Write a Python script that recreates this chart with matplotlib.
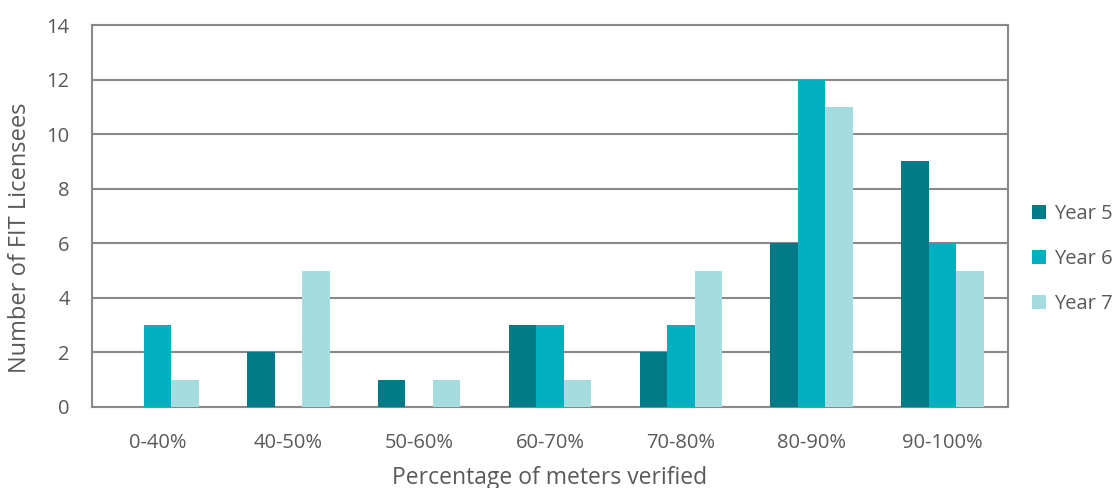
import numpy as np
import matplotlib.pyplot as plt

plt.rcParams['font.family'] = ['Open Sans', 'DejaVu Sans']

categories = ['0-40%', '40-50%', '50-60%', '60-70%', '70-80%', '80-90%', '90-100%']
year5 = [0, 2, 1, 3, 2, 6, 9]
year6 = [3, 0, 0, 3, 3, 12, 6]
year7 = [1, 5, 1, 1, 5, 11, 5]

colors = ['#007A87', '#00B0BF', '#A5DCE0']
text_col = '#595959'
grid_col = '#898989'

fig = plt.figure(figsize=(11.18, 4.88), dpi=100)
ax = fig.add_axes([0.0823, 0.166, 0.8193, 0.7827])

x = np.arange(len(categories))
w = 0.21
for i, (vals, lab) in enumerate(zip([year5, year6, year7], ['Year 5', 'Year 6', 'Year 7'])):
    ax.bar(x + (i - 1) * w, vals, width=w, color=colors[i], label=lab, zorder=3)

ax.set_xlim(-0.5, len(categories) - 0.5)
ax.set_ylim(0, 14)
ax.set_yticks(range(0, 15, 2))
ax.set_xticks(x)
ax.set_xticklabels(categories)
ax.yaxis.grid(True, color=grid_col, linewidth=1.5, zorder=0)
ax.set_axisbelow(True)
for s in ax.spines.values():
    s.set_color(grid_col)
    s.set_linewidth(1.5)
ax.tick_params(axis='both', length=0, labelsize=14.5, colors=text_col)
ax.tick_params(axis='x', pad=19)
ax.tick_params(axis='y', pad=16)

# x label sits low, nearly touching the bottom edge like the original
ax.set_xlabel('Percentage of meters verified', fontsize=16.5, color=text_col)
ax.xaxis.set_label_coords(0.5, -0.155)
ax.set_ylabel('Number of FIT Licensees', fontsize=17, color=text_col)
ax.yaxis.set_label_coords(-0.0655, 0.442)

ax.legend(loc='center left', bbox_to_anchor=(1.006, 0.387), frameon=False,
          fontsize=14.5, labelcolor=text_col, handlelength=0.7, handleheight=0.7,
          handletextpad=0.4, labelspacing=1.25)

fig.savefig('out.png', dpi=100)
